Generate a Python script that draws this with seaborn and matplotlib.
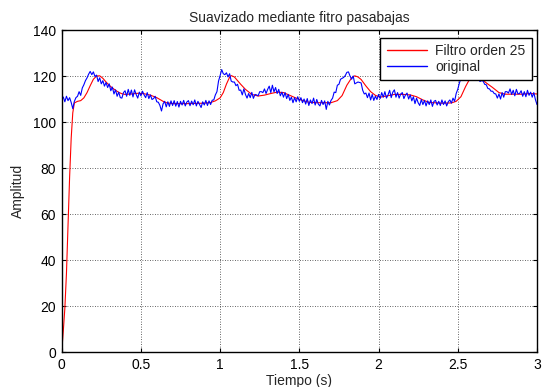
import numpy as np
import pandas as pd
import matplotlib
matplotlib.use("Agg")
import matplotlib.pyplot as plt
import seaborn as sns

# ---------------- data ----------------
title = "Suavizado mediante fitro pasabajas"
xlabel = "Tiempo (s)"
ylabel = "Amplitud"
label_filt = "Filtro orden 25"
label_orig = "original"

xticks = [0, 0.5, 1, 1.5, 2, 2.5, 3]
xtick_labels = ["0", "0.5", "1", "1.5", "2", "2.5", "3"]
yticks = [0, 20, 40, 60, 80, 100, 120, 140]
ytick_labels = ["0", "20", "40", "60", "80", "100", "120", "140"]

# original signal, sampled every 0.01 s from t = 0 to t = 3
orig_dt = 0.01
orig_values = [
    109.6, 110.9, 108.8, 111.2, 109.3, 110.6, 108.5, 105.8, 109.0, 110.6,   # 0.0
    111.2, 113.2, 111.6, 114.8, 116.2, 118.0, 119.2, 120.8, 122.0, 120.6,   # 0.1
    121.8, 119.8, 120.4, 117.6, 119.2, 116.6, 118.0, 115.6, 117.2, 115.0,   # 0.2
    116.6, 113.6, 115.2, 112.2, 114.0, 111.2, 113.0, 110.6, 110.4, 112.8,   # 0.3
    113.6, 111.2, 114.2, 111.6, 113.9, 110.9, 114.0, 112.0, 110.4, 113.0,   # 0.4
    111.4, 113.4, 111.8, 110.6, 112.8, 110.2, 111.8, 109.8, 110.2, 111.2,   # 0.5
    108.8, 108.6, 107.2, 104.8, 107.9, 109.0, 106.6, 108.8, 106.8, 109.2,   # 0.6
    107.2, 109.3, 106.9, 108.9, 106.5, 109.0, 107.4, 109.4, 107.0, 108.7,   # 0.7
    109.3, 107.1, 109.1, 107.5, 109.6, 107.0, 109.0, 107.7, 106.3, 108.8,   # 0.8
    107.4, 109.4, 107.2, 109.2, 107.6, 109.5, 109.6, 111.8, 113.2, 117.8,   # 0.9
    120.2, 122.8, 121.0, 120.6, 121.4, 119.6, 121.0, 117.8, 117.4, 117.4,   # 1.0
    115.8, 116.4, 113.8, 113.9, 111.8, 114.4, 112.0, 110.4, 112.4, 110.6,   # 1.1
    112.9, 110.3, 112.0, 111.8, 111.4, 113.2, 113.2, 112.8, 114.4, 112.4,   # 1.2
    114.2, 115.6, 112.8, 116.0, 113.1, 115.0, 112.4, 114.2, 111.4, 113.0,   # 1.3
    110.8, 112.8, 110.2, 112.0, 109.4, 110.8, 108.4, 110.6, 108.8, 111.0,   # 1.4
    109.0, 110.6, 108.4, 110.0, 107.8, 110.2, 107.2, 109.6, 108.0, 110.4,   # 1.5
    107.4, 109.8, 107.8, 107.0, 109.4, 107.6, 109.2, 105.5, 109.0, 107.4,   # 1.6
    109.4, 110.4, 113.0, 112.8, 116.0, 116.4, 118.6, 119.0, 119.4, 120.2,   # 1.7
    121.6, 121.8, 120.0, 118.6, 120.0, 116.6, 117.0, 117.4, 117.2, 117.0,   # 1.8
    113.8, 112.2, 112.6, 110.6, 112.6, 109.6, 112.0, 109.4, 111.2, 109.8,   # 1.9
    112.0, 110.2, 112.8, 110.8, 113.2, 110.4, 111.8, 113.8, 110.6, 113.0,   # 2.0
    114.0, 110.8, 112.8, 110.4, 112.2, 112.8, 110.2, 111.8, 112.6, 110.0,   # 2.1
    111.8, 109.2, 111.0, 108.0, 110.4, 108.4, 107.2, 109.8, 107.6, 109.4,   # 2.2
    107.0, 109.2, 107.6, 109.6, 106.8, 109.0, 109.4, 107.4, 109.0, 107.2,   # 2.3
    109.6, 107.6, 109.2, 107.0, 108.8, 109.6, 108.2, 110.4, 109.0, 112.4,   # 2.4
    114.2, 116.9, 118.9, 121.4, 122.2, 121.9, 122.4, 121.6, 121.6, 121.2,   # 2.5
    121.1, 120.4, 118.8, 120.2, 117.6, 118.0, 117.8, 116.4, 116.2, 114.6,   # 2.6
    114.4, 113.4, 113.4, 112.4, 112.2, 110.4, 112.2, 110.0, 112.8, 110.8,   # 2.7
    113.2, 113.2, 112.6, 114.4, 112.0, 113.8, 111.4, 114.2, 112.2, 112.4,   # 2.8
    113.6, 111.2, 113.2, 111.0, 113.8, 111.6, 113.0, 110.8, 112.8, 109.8,   # 2.9
    107.6,                                                                  # 3.0
]
orig_time = [round(i * orig_dt, 2) for i in range(len(orig_values))]

# filtered signal (smooth curve), read at these times
filt_time = [0.00, 0.01, 0.02, 0.03, 0.04, 0.05, 0.06, 0.07, 0.08, 0.10,
             0.12, 0.14, 0.16, 0.18, 0.20, 0.22, 0.24, 0.26, 0.28, 0.30,
             0.32, 0.34, 0.36, 0.38, 0.40, 0.44, 0.48, 0.52, 0.56, 0.60,
             0.62, 0.64, 0.66, 0.70, 0.80, 0.90, 0.94, 0.97, 1.00, 1.02,
             1.04, 1.06, 1.07, 1.09, 1.11, 1.13, 1.16, 1.20, 1.24, 1.28,
             1.32, 1.36, 1.40, 1.44, 1.48, 1.52, 1.56, 1.60, 1.70, 1.74,
             1.77, 1.80, 1.83, 1.85, 1.87, 1.89, 1.92, 1.95, 1.98, 2.01,
             2.05, 2.10, 2.16, 2.20, 2.24, 2.28, 2.32, 2.40, 2.46, 2.49,
             2.52, 2.55, 2.58, 2.61, 2.64, 2.68, 2.72, 2.76, 2.80, 2.90,
             2.96, 3.00]
filt_values = [0.0, 9.0, 19.0, 34.0, 55.0, 76.0, 93.0, 104.0, 108.3, 109.0,
               109.3, 110.5, 112.8, 115.8, 118.6, 120.0, 120.1, 119.0, 117.4, 116.0,
               114.8, 113.8, 112.9, 112.3, 112.0, 112.2, 112.5, 112.3, 111.7, 110.6,
               109.8, 109.0, 108.4, 108.0, 108.0, 108.2, 108.5, 109.2, 110.5, 112.8,
               116.5, 119.5, 120.2, 119.6, 118.0, 116.4, 114.2, 112.0, 111.3, 111.7,
               112.4, 113.0, 112.8, 111.6, 110.4, 109.4, 108.6, 108.4, 108.4, 109.3,
               111.5, 116.0, 119.2, 120.1, 119.6, 118.5, 115.7, 113.2, 111.6, 110.8,
               111.3, 112.0, 112.0, 111.8, 111.0, 109.6, 108.5, 108.2, 108.3, 109.0,
               111.0, 115.5, 119.3, 120.4, 119.4, 117.0, 115.0, 112.8, 112.1, 112.1,
               112.4, 112.2]

df_orig = pd.DataFrame({"t": orig_time, "v": orig_values})
df_filt = pd.DataFrame({"t": filt_time, "v": filt_values})

# ---------------- style ----------------
sns.set_theme(style="white")
plt.rcParams["font.family"] = ["Liberation Sans", "DejaVu Sans"]
plt.rcParams["font.size"] = 10

fig = plt.figure(figsize=(5.43, 3.87), dpi=100)
ax = fig.add_axes([0.1136, 0.0904, 0.8753, 0.8320])

sns.lineplot(data=df_filt, x="t", y="v", color="#ff0000", lw=0.8,
             ax=ax, label=label_filt, sort=False, estimator=None)
sns.lineplot(data=df_orig, x="t", y="v", color="#0000ff", lw=0.8,
             ax=ax, label=label_orig, sort=False, estimator=None)

ax.set_xlim(0, 3)
ax.set_ylim(0, 140)
ax.set_xticks(xticks)
ax.set_xticklabels(xtick_labels)
ax.set_yticks(yticks)
ax.set_yticklabels(ytick_labels)

ax.grid(True, color="#333333", linestyle=(0, (1, 2)), linewidth=0.6)
ax.set_axisbelow(True)

for s in ax.spines.values():
    s.set_visible(True)
    s.set_color("black")
    s.set_linewidth(1.0)

ax.tick_params(axis="both", which="major", direction="in", length=3,
               width=0.8, top=True, right=True, bottom=True, left=True,
               labelsize=10, colors="black", pad=4)

ax.set_title(title, fontsize=10, pad=6)
ax.set_xlabel(xlabel, fontsize=10, labelpad=2)
ax.set_ylabel(ylabel, fontsize=10, labelpad=6)

leg = ax.legend(loc="upper right", bbox_to_anchor=(0.989, 0.975),
                frameon=True, fancybox=False, edgecolor="black",
                framealpha=1, borderaxespad=0, handlelength=2.9,
                handletextpad=0.6, borderpad=0.45, labelspacing=0.1,
                fontsize=10)
leg.get_frame().set_linewidth(1.0)
for h in leg.get_lines():
    h.set_linewidth(1.0)

fig.savefig("out.png", dpi=100)
